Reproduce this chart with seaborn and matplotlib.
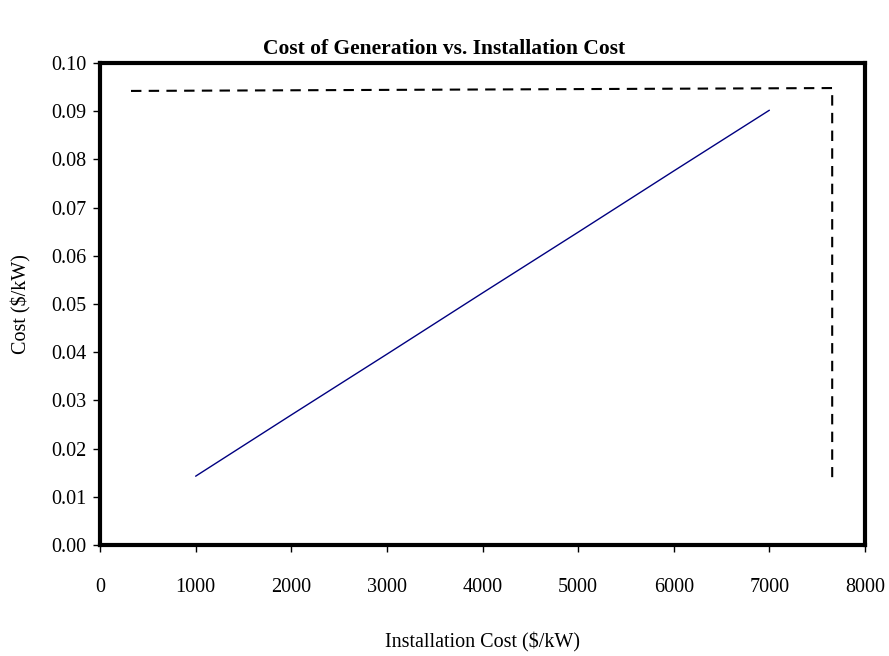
import matplotlib
matplotlib.use("Agg")
import matplotlib.pyplot as plt
import numpy as np
import pandas as pd
import seaborn as sns

# data
install_cost = [1000, 2000, 3000, 4000, 5000, 6000, 7000]
gen_cost = [0.0143, 0.0270, 0.0396, 0.0523, 0.0649, 0.0776, 0.0902]

# dashed bracket drawn on the chart
bracket_x = [324, 7657, 7657]
bracket_y = [0.0942, 0.0948, 0.0141]

xticks = [0, 1000, 2000, 3000, 4000, 5000, 6000, 7000, 8000]
yticks = [0.00, 0.01, 0.02, 0.03, 0.04, 0.05, 0.06, 0.07, 0.08, 0.09, 0.10]

df = pd.DataFrame({"install": install_cost, "cost": gen_cost})

sns.set_style("white", {"text.color": "black", "axes.labelcolor": "black",
                        "xtick.color": "black", "ytick.color": "black"})
plt.rcParams["font.family"] = ["Liberation Serif", "DejaVu Serif"]

fig = plt.figure(figsize=(8.89, 6.56), dpi=100)
ax = fig.add_axes([0.1125, 0.169, 0.8605, 0.735])

sns.lineplot(data=df, x="install", y="cost", color="#000080", linewidth=1.0, ax=ax)
ax.plot(bracket_x, bracket_y, color="black", linewidth=1.5, linestyle=(0, (5, 3.5)))

ax.set_xlim(0, 8000)
ax.set_ylim(0, 0.10)
ax.set_xticks(xticks)
ax.set_yticks(yticks)
ax.set_xticklabels([str(t) for t in xticks])
ax.set_yticklabels([f"{t:.2f}" for t in yticks])

for s in ax.spines.values():
    s.set_visible(True)
    s.set_color("black")
    s.set_linewidth(3)

ax.tick_params(axis="both", direction="out", length=5, width=1, color="black",
               labelcolor="black", labelsize=14.5, left=True, bottom=True)
ax.tick_params(axis="x", pad=19)
ax.tick_params(axis="y", pad=5)

ax.set_xlabel("Installation Cost ($/kW)", fontsize=14.5, labelpad=25, color="black")
ax.set_ylabel("Cost ($/kW)", fontsize=14.5, labelpad=14, color="black")
fig.suptitle("Cost of Generation vs. Installation Cost", fontsize=15.5,
             fontweight="bold", x=0.5, y=0.926, va="center", color="black")

fig.savefig("out.png", dpi=100)
